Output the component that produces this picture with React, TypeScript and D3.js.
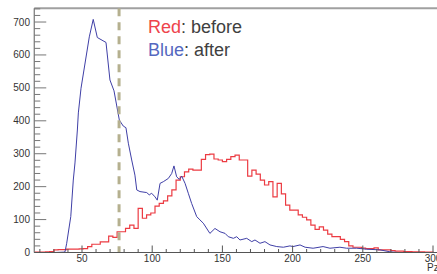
import React from "react";
import * as d3 from "d3";

const W = 437;
const H = 274;

// Red histogram ("before"): bins of width 3 starting at 15
const redStart = 15;
const redBinWidth = 3;
const redCounts = [
  1, 1, 1, 2, 3, 8, 9, 9, 10, 10, 10, 11, 12, 18, 25, 25, 32, 32, 50, 46,
  63, 63, 73, 83, 73, 134, 104, 114, 120, 141, 149, 157, 172, 190, 220, 230,
  245, 253, 250, 250, 283, 297, 299, 284, 281, 276, 283, 291, 296, 281, 281,
  232, 250, 238, 220, 205, 215, 169, 210, 178, 144, 129, 129, 114, 107, 99,
  83, 70, 78, 68, 56, 48, 48, 40, 33, 20, 16, 16, 13, 12, 12, 14, 8, 8, 8, 6,
  4, 4, 3, 3, 2, 2, 2, 1, 1,
];

// Blue curve ("after"): x values and y values
const blueX = [
  16, 30, 36.7, 37.9, 39.1, 42, 43.8, 45, 46.7, 47.4, 49.3, 55.2, 58, 60.9,
  67.1, 69.9, 72.8, 76.6, 79.4, 81.3, 83, 85.4, 87.7, 89, 91.3, 96.1, 97.9,
  99.6, 102, 103.6, 105.6, 107.9, 111.5, 113.9, 115.5, 117.4, 119.3, 121,
  123.4, 125.7, 128.1, 131.7, 134, 136.4, 141.1, 144.7, 148.3, 151.9, 154.2,
  157.8, 160.2, 162.5, 167.3, 170.9, 173.2, 176.8, 180.3, 183.9, 188.7, 193.4,
  198.1, 200.3, 205.3, 208.9, 214.6, 221.7, 226.6, 233.7, 238.5, 245.7, 252.8,
  262.2, 269.4, 275, 303,
];
const blueY = [
  0, 0, 1, 2, 28, 109, 220, 272, 372, 424, 499, 655, 708, 653, 638, 524, 491,
  402, 384, 379, 332, 281, 235, 190, 185, 182, 175, 180, 169, 159, 210, 215,
  225, 240, 263, 230, 222, 232, 210, 180, 149, 109, 99, 89, 58, 73, 63, 58, 48,
  43, 48, 38, 43, 33, 38, 28, 33, 23, 18, 16, 20, 18, 23, 16, 13, 18, 13, 16,
  13, 13, 10, 8, 2, 0, 0,
];

const cutValue = 76.4;

const xMajor = [50, 100, 150, 200, 250, 300];
const yMajor = [0, 100, 200, 300, 400, 500, 600, 700];

const xMin = 16;
const xMax = 300;
const yMax = 742;

export default function App() {
  const x = d3.scaleLinear().domain([0, 300]).range([11.8, 433]);
  const y = d3.scaleLinear().domain([0, yMax]).range([252.5, 8.2]);

  const left = x(xMin);
  const top = y(yMax);
  const bottom = y(0);

  const redPts: [number, number][] = redCounts.map((c, i) => [
    redStart + i * redBinWidth,
    c,
  ]);
  redPts.push([redStart + redCounts.length * redBinWidth, 0]);
  const redLine = d3
    .line<[number, number]>()
    .x((d) => x(d[0]))
    .y((d) => y(d[1]))
    .curve(d3.curveStepAfter);

  const bluePts: [number, number][] = blueX.map((v, i) => [v, blueY[i]]);
  const blueLine = d3
    .line<[number, number]>()
    .x((d) => x(d[0]))
    .y((d) => y(d[1]));

  const xMinor = d3.range(20, 301, 10).filter((v) => v % 50 !== 0);
  const yMinor = d3.range(0, yMax, 20).filter((v) => v % 100 !== 0);

  return (
    <svg
      width={W}
      height={H}
      style={{ position: "absolute", left: 0, top: 0, background: "#fff" }}
      fontFamily="'Liberation Sans', Arial, sans-serif"
    >
      <defs>
        <clipPath id="plot">
          <rect x={left} y={top} width={W - left} height={bottom - top + 1} />
        </clipPath>
      </defs>
      <rect x={0} y={0} width={W} height={H} fill="#fff" />

      {/* frame top */}
      <line x1={left} x2={W} y1={top} y2={top} stroke="#a0a0a0" strokeWidth={2} />

      <g clipPath="url(#plot)">
        <path d={redLine(redPts) || ""} fill="none" stroke="#ec3b42" strokeWidth={1.2} />
        <path d={blueLine(bluePts) || ""} fill="none" stroke="#3f3fa6" strokeWidth={1} />
        <line
          x1={x(cutValue)}
          x2={x(cutValue)}
          y1={top}
          y2={bottom}
          stroke="#b5b08f"
          strokeWidth={3}
          strokeDasharray="8,6"
        />
      </g>

      {/* left axis */}
      <line x1={left} x2={left} y1={top} y2={bottom} stroke="#777" strokeWidth={1.2} />
      {yMajor.map((v) => (
        <g key={"ym" + v}>
          <line x1={left} x2={left + 12} y1={y(v)} y2={y(v)} stroke="#777" strokeWidth={1} />
          <text x={30} y={y(v) + 3.5} textAnchor="end" fontSize={10} fill="#333">
            {v}
          </text>
        </g>
      ))}
      {yMinor.map((v) => (
        <line key={"yn" + v} x1={left} x2={left + 6} y1={y(v)} y2={y(v)} stroke="#777" strokeWidth={1} />
      ))}

      {/* bottom axis */}
      <line x1={left} x2={W} y1={bottom} y2={bottom} stroke="#555" strokeWidth={1.2} />
      {xMajor.map((v) => (
        <g key={"xm" + v}>
          <line x1={x(v)} x2={x(v)} y1={bottom} y2={bottom - 7} stroke="#555" strokeWidth={1} />
          <text x={x(v)} y={262} textAnchor="middle" fontSize={10} fill="#333">
            {v}
          </text>
        </g>
      ))}
      {xMinor.map((v) => (
        <line key={"xn" + v} x1={x(v)} x2={x(v)} y1={bottom} y2={bottom - 3.5} stroke="#555" strokeWidth={1} />
      ))}
      <text x={427} y={271} fontSize={10} fill="#333">
        Pz
      </text>

      {/* legend */}
      <text x={148} y={32.5} fontSize={18} fill="#404040">
        <tspan fill="#ee444c">Red</tspan>: before
      </text>
      <text x={148} y={56} fontSize={18} fill="#404040">
        <tspan fill="#5468c0">Blue</tspan>: after
      </text>
    </svg>
  );
}
